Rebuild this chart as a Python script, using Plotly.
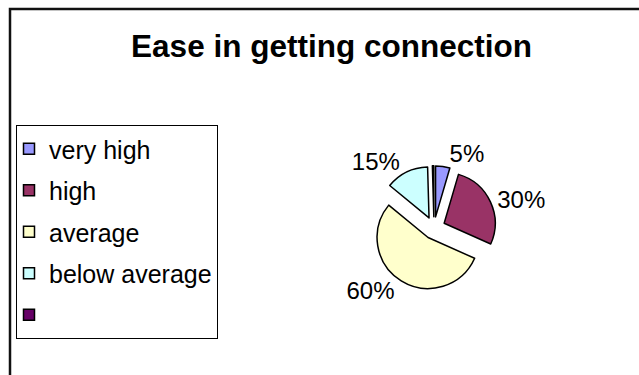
import plotly.graph_objects as go

# Survey answers: how easy it was to get a connection
categories = ["very high", "high", "average", "below average", ""]
values = [5, 30, 60, 15, 0.5]
colors = ["#9999FF", "#993366", "#FFFFCC", "#CCFFFF", "#660066"]
value_labels = ["%{value}%", "%{value}%", "%{value}%", "%{value}%", ""]

FONT = "Liberation Sans, Arial, sans-serif"
W, H = 639, 375

fig = go.Figure()

fig.add_trace(go.Pie(
    labels=categories,
    values=values,
    sort=False,
    direction="clockwise",
    rotation=0,
    pull=0.22,
    marker=dict(colors=colors, line=dict(color="#000000", width=1.5)),
    texttemplate=value_labels,
    textposition="outside",
    outsidetextfont=dict(family=FONT, size=24, color="#000000"),
    hoverinfo="label+value",
    showlegend=False,
    domain=dict(x=[0.5818, 0.7765], y=[0.2261, 0.5579]),
))

# Legend entries: one square per category, each in its own group for spacing
for i, (name, col) in enumerate(zip(categories, colors)):
    fig.add_trace(go.Scatter(
        x=[None], y=[None], mode="markers", name=name,
        legendgroup=f"g{i}",
        marker=dict(symbol="square", size=11, color=col,
                    line=dict(color="#000000", width=1.5)),
    ))

fig.update_layout(
    width=W, height=H,
    margin=dict(l=0, r=0, t=0, b=0),
    paper_bgcolor="white",
    plot_bgcolor="white",
    xaxis=dict(visible=False),
    yaxis=dict(visible=False),
    title=dict(
        text="<b>Ease in getting connection</b>",
        font=dict(family=FONT, size=31.5, color="#000000"),
        x=331.5 / W, xanchor="center",
        y=1 - 46 / H, yanchor="middle", yref="container",
    ),
    legend=dict(
        x=16 / W, xanchor="left",
        y=1 - 125 / H, yanchor="top",
        bgcolor="white",
        bordercolor="#000000", borderwidth=1,
        font=dict(family=FONT, size=25, color="#000000"),
        tracegroupgap=6,
        indentation=-8,
    ),
    shapes=[dict(
        type="rect", xref="paper", yref="paper",
        x0=10 / W, x1=1.02, y0=-0.02, y1=1 - 9 / H,
        line=dict(color="#111111", width=2.5),
    )],
)

fig.write_html("out.html")
